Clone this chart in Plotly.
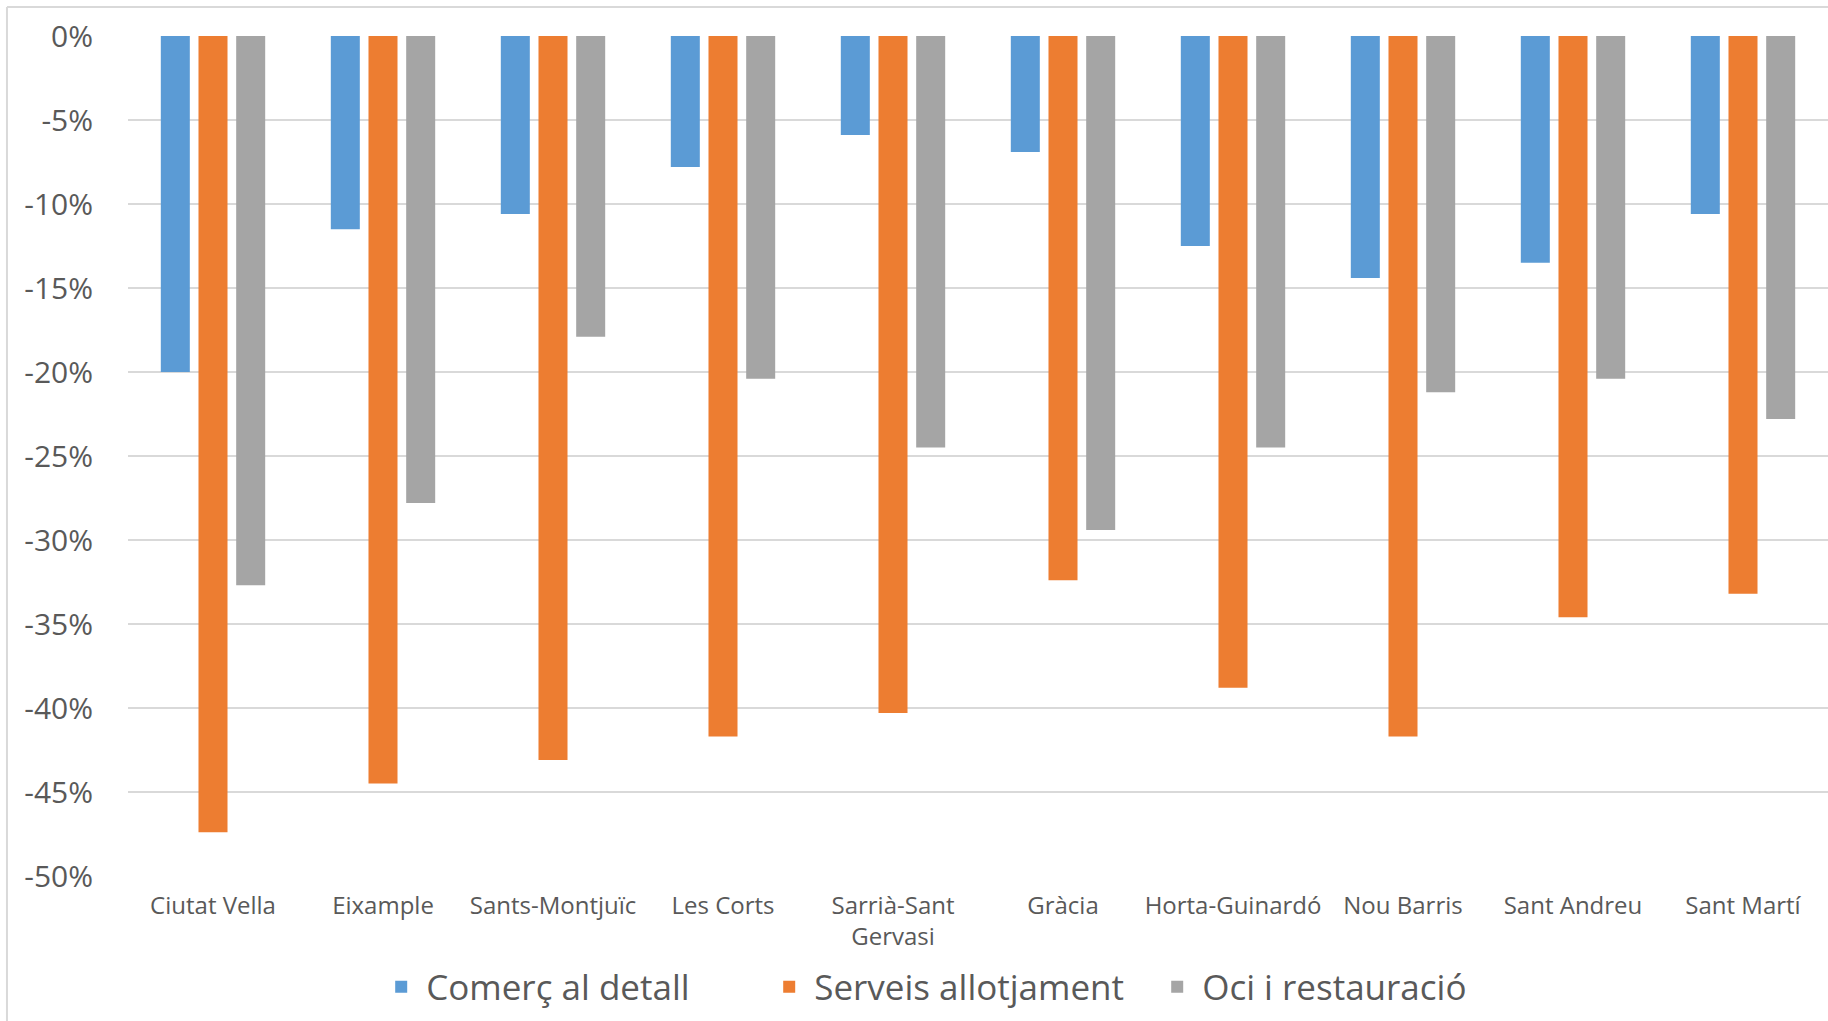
import plotly.graph_objects as go

districts = ["Ciutat Vella", "Eixample", "Sants-Montjuïc", "Les Corts", "Sarrià-Sant<br>Gervasi",
             "Gràcia", "Horta-Guinardó", "Nou Barris", "Sant Andreu", "Sant Martí"]
comerc = [-20.0, -11.5, -10.6, -7.8, -5.9, -6.9, -12.5, -14.4, -13.5, -10.6]
serveis = [-47.4, -44.5, -43.1, -41.7, -40.3, -32.4, -38.8, -41.7, -34.6, -33.2]
oci = [-32.7, -27.8, -17.9, -20.4, -24.5, -29.4, -24.5, -21.2, -20.4, -22.8]
series_names = ["Comerç al detall", "Serveis allotjament", "Oci i restauració"]
colors = ["#5B9BD5", "#ED7D31", "#A5A5A5"]
ytick_vals = [0, -5, -10, -15, -20, -25, -30, -35, -40, -45, -50]
ytick_text = [f"{v}%" for v in ytick_vals]

FONT = "Open Sans"
TXT = "#595959"
GRID = "#D9D9D9"

fig = go.Figure()
for name, vals, col in zip(series_names, [comerc, serveis, oci], colors):
    fig.add_trace(go.Bar(x=districts, y=vals, name=name,
                         marker=dict(color=col, line=dict(width=0))))

fig.update_layout(
    width=1828, height=1021,
    margin=dict(l=128, r=0, t=36, b=145),
    paper_bgcolor="white", plot_bgcolor="white",
    barmode="group", bargap=0.335, bargroupgap=0.23,
    font=dict(family=FONT, color=TXT),
    showlegend=True,
    legend=dict(orientation="h", x=0.146, xanchor="left", y=-0.132, yanchor="middle",
                font=dict(size=35, color=TXT, family=FONT), itemwidth=40,
                entrywidth=333, entrywidthmode="pixels", bgcolor="rgba(0,0,0,0)"),
    xaxis=dict(showgrid=False, showline=False, ticks="", tickfont=dict(size=24, color=TXT),
               ticklabelstandoff=13),
    yaxis=dict(range=[-50, 0], tickvals=ytick_vals, ticktext=ytick_text, showgrid=True,
               gridcolor=GRID, gridwidth=1.6, zeroline=False, showline=False, ticks="",
               tickfont=dict(size=30, color=TXT), ticklabelstandoff=34),
    shapes=[
        dict(type="line", xref="paper", yref="paper", x0=-0.0712, x1=-0.0712, y0=-0.3, y1=1.0345,
             line=dict(color=GRID, width=2)),
        dict(type="line", xref="paper", yref="paper", x0=-0.0712, x1=1.0, y0=1.0345, y1=1.0345,
             line=dict(color=GRID, width=2)),
    ],
)

fig.write_html("out.html", config={"displayModeBar": False},
               post_script="document.body.style.margin='0';")
